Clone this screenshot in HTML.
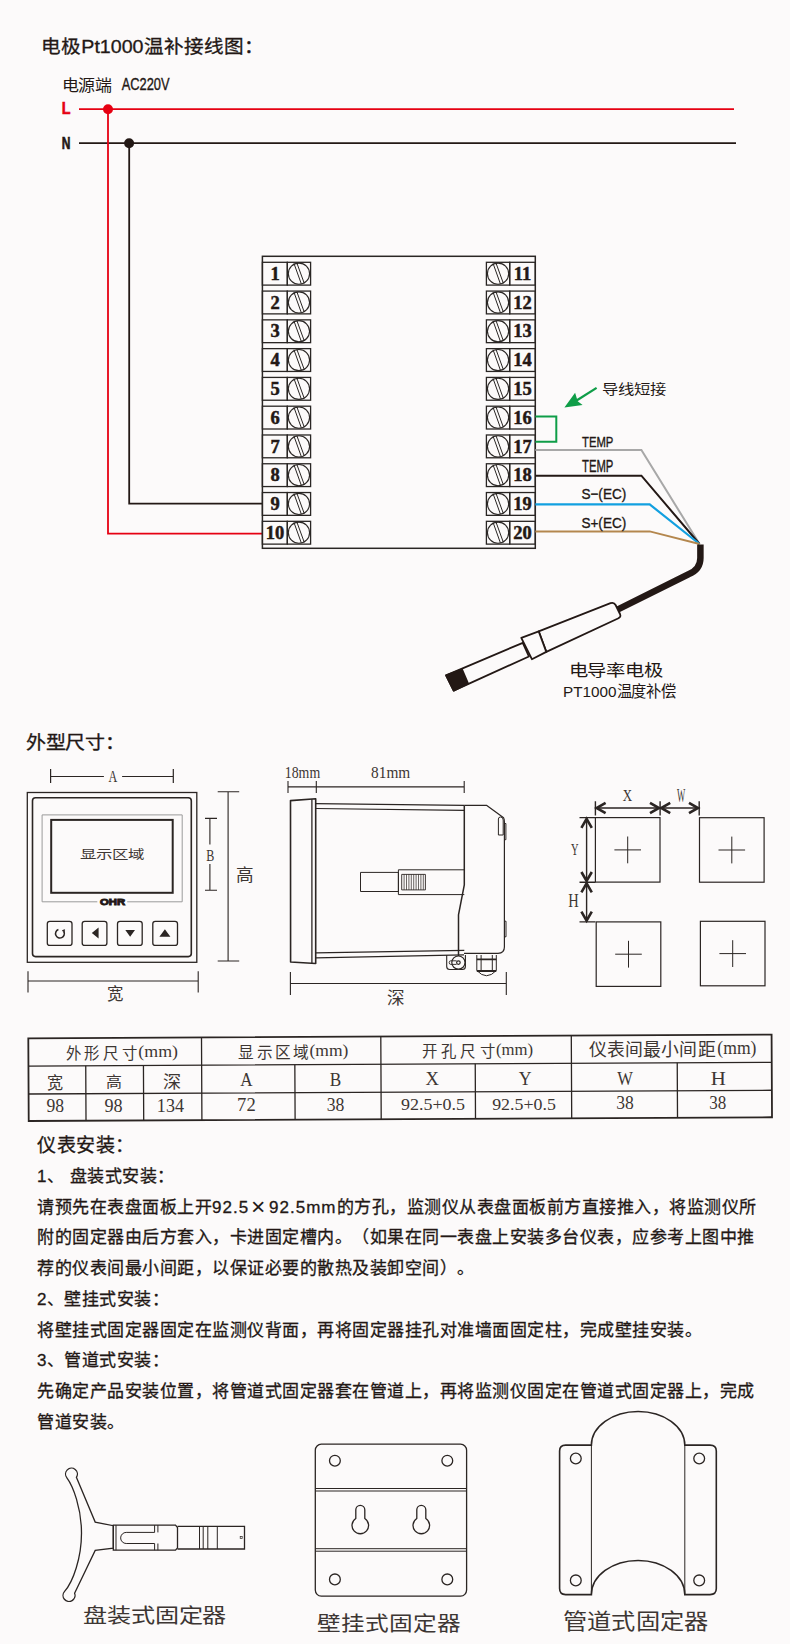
<!DOCTYPE html>
<html lang="zh-CN"><head><meta charset="utf-8">
<style>
html,body{margin:0;padding:0;background:#fcfafa;}
body{width:790px;height:1644px;position:relative;overflow:hidden;font-family:"Liberation Sans",sans-serif;color:#231815;}
svg{position:absolute;left:0;top:0;}
.p{position:absolute;left:37px;white-space:nowrap;line-height:30px;letter-spacing:0.5px;text-spacing-trim:space-all;-webkit-text-stroke:0.3px #231815;}
.l{letter-spacing:1px}
.x{display:inline-block;width:20px;text-align:center;transform:scale(1.45,1.45);-webkit-text-stroke:0}
</style></head><body>
<svg width="790" height="1644" viewBox="0 0 790 1644" font-family="Liberation Sans, sans-serif">
<path d="M79 109.2H734" stroke="#e60012" stroke-width="1.8" fill="none"/>
<path d="M79 143.2H736" stroke="#231815" stroke-width="1.8" fill="none"/>
<path d="M108 109.2V533.6H262.4" stroke="#e60012" stroke-width="1.8" fill="none"/>
<path d="M129.2 143.2V503.7H262.4" stroke="#231815" stroke-width="1.8" fill="none"/>
<circle cx="108" cy="109.2" r="5" fill="#e60012"/>
<circle cx="129.1" cy="143.2" r="5" fill="#231815"/>
<rect x="262.4" y="256.3" width="272.9" height="292" fill="none" stroke="#2a2624" stroke-width="1.5"/>
<rect x="262.4" y="262.30" width="24.9" height="22.8" fill="none" stroke="#2a2624" stroke-width="1.3"/>
<rect x="287.30" y="262.30" width="23.3" height="22.8" fill="none" stroke="#2a2624" stroke-width="1.3"/><circle cx="298.95" cy="273.70" r="10.6" fill="none" stroke="#2a2624" stroke-width="1.1"/><path d="M293.95 263.40L301.25 283.70M296.95 263.20L304.25 283.30" stroke="#2a2624" stroke-width="1" fill="none"/>
<rect x="486.40" y="262.30" width="23.3" height="22.8" fill="none" stroke="#2a2624" stroke-width="1.3"/><circle cx="498.05" cy="273.70" r="10.6" fill="none" stroke="#2a2624" stroke-width="1.1"/><path d="M493.05 263.40L500.35 283.70M496.05 263.20L503.35 283.30" stroke="#2a2624" stroke-width="1" fill="none"/>
<rect x="509.7" y="262.30" width="25.6" height="22.8" fill="none" stroke="#2a2624" stroke-width="1.3"/>
<rect x="262.4" y="291.08" width="24.9" height="22.8" fill="none" stroke="#2a2624" stroke-width="1.3"/>
<rect x="287.30" y="291.08" width="23.3" height="22.8" fill="none" stroke="#2a2624" stroke-width="1.3"/><circle cx="298.95" cy="302.48" r="10.6" fill="none" stroke="#2a2624" stroke-width="1.1"/><path d="M293.95 292.18L301.25 312.48M296.95 291.98L304.25 312.08" stroke="#2a2624" stroke-width="1" fill="none"/>
<rect x="486.40" y="291.08" width="23.3" height="22.8" fill="none" stroke="#2a2624" stroke-width="1.3"/><circle cx="498.05" cy="302.48" r="10.6" fill="none" stroke="#2a2624" stroke-width="1.1"/><path d="M493.05 292.18L500.35 312.48M496.05 291.98L503.35 312.08" stroke="#2a2624" stroke-width="1" fill="none"/>
<rect x="509.7" y="291.08" width="25.6" height="22.8" fill="none" stroke="#2a2624" stroke-width="1.3"/>
<rect x="262.4" y="319.86" width="24.9" height="22.8" fill="none" stroke="#2a2624" stroke-width="1.3"/>
<rect x="287.30" y="319.86" width="23.3" height="22.8" fill="none" stroke="#2a2624" stroke-width="1.3"/><circle cx="298.95" cy="331.26" r="10.6" fill="none" stroke="#2a2624" stroke-width="1.1"/><path d="M293.95 320.96L301.25 341.26M296.95 320.76L304.25 340.86" stroke="#2a2624" stroke-width="1" fill="none"/>
<rect x="486.40" y="319.86" width="23.3" height="22.8" fill="none" stroke="#2a2624" stroke-width="1.3"/><circle cx="498.05" cy="331.26" r="10.6" fill="none" stroke="#2a2624" stroke-width="1.1"/><path d="M493.05 320.96L500.35 341.26M496.05 320.76L503.35 340.86" stroke="#2a2624" stroke-width="1" fill="none"/>
<rect x="509.7" y="319.86" width="25.6" height="22.8" fill="none" stroke="#2a2624" stroke-width="1.3"/>
<rect x="262.4" y="348.64" width="24.9" height="22.8" fill="none" stroke="#2a2624" stroke-width="1.3"/>
<rect x="287.30" y="348.64" width="23.3" height="22.8" fill="none" stroke="#2a2624" stroke-width="1.3"/><circle cx="298.95" cy="360.04" r="10.6" fill="none" stroke="#2a2624" stroke-width="1.1"/><path d="M293.95 349.74L301.25 370.04M296.95 349.54L304.25 369.64" stroke="#2a2624" stroke-width="1" fill="none"/>
<rect x="486.40" y="348.64" width="23.3" height="22.8" fill="none" stroke="#2a2624" stroke-width="1.3"/><circle cx="498.05" cy="360.04" r="10.6" fill="none" stroke="#2a2624" stroke-width="1.1"/><path d="M493.05 349.74L500.35 370.04M496.05 349.54L503.35 369.64" stroke="#2a2624" stroke-width="1" fill="none"/>
<rect x="509.7" y="348.64" width="25.6" height="22.8" fill="none" stroke="#2a2624" stroke-width="1.3"/>
<rect x="262.4" y="377.42" width="24.9" height="22.8" fill="none" stroke="#2a2624" stroke-width="1.3"/>
<rect x="287.30" y="377.42" width="23.3" height="22.8" fill="none" stroke="#2a2624" stroke-width="1.3"/><circle cx="298.95" cy="388.82" r="10.6" fill="none" stroke="#2a2624" stroke-width="1.1"/><path d="M293.95 378.52L301.25 398.82M296.95 378.32L304.25 398.42" stroke="#2a2624" stroke-width="1" fill="none"/>
<rect x="486.40" y="377.42" width="23.3" height="22.8" fill="none" stroke="#2a2624" stroke-width="1.3"/><circle cx="498.05" cy="388.82" r="10.6" fill="none" stroke="#2a2624" stroke-width="1.1"/><path d="M493.05 378.52L500.35 398.82M496.05 378.32L503.35 398.42" stroke="#2a2624" stroke-width="1" fill="none"/>
<rect x="509.7" y="377.42" width="25.6" height="22.8" fill="none" stroke="#2a2624" stroke-width="1.3"/>
<rect x="262.4" y="406.20" width="24.9" height="22.8" fill="none" stroke="#2a2624" stroke-width="1.3"/>
<rect x="287.30" y="406.20" width="23.3" height="22.8" fill="none" stroke="#2a2624" stroke-width="1.3"/><circle cx="298.95" cy="417.60" r="10.6" fill="none" stroke="#2a2624" stroke-width="1.1"/><path d="M293.95 407.30L301.25 427.60M296.95 407.10L304.25 427.20" stroke="#2a2624" stroke-width="1" fill="none"/>
<rect x="486.40" y="406.20" width="23.3" height="22.8" fill="none" stroke="#2a2624" stroke-width="1.3"/><circle cx="498.05" cy="417.60" r="10.6" fill="none" stroke="#2a2624" stroke-width="1.1"/><path d="M493.05 407.30L500.35 427.60M496.05 407.10L503.35 427.20" stroke="#2a2624" stroke-width="1" fill="none"/>
<rect x="509.7" y="406.20" width="25.6" height="22.8" fill="none" stroke="#2a2624" stroke-width="1.3"/>
<rect x="262.4" y="434.98" width="24.9" height="22.8" fill="none" stroke="#2a2624" stroke-width="1.3"/>
<rect x="287.30" y="434.98" width="23.3" height="22.8" fill="none" stroke="#2a2624" stroke-width="1.3"/><circle cx="298.95" cy="446.38" r="10.6" fill="none" stroke="#2a2624" stroke-width="1.1"/><path d="M293.95 436.08L301.25 456.38M296.95 435.88L304.25 455.98" stroke="#2a2624" stroke-width="1" fill="none"/>
<rect x="486.40" y="434.98" width="23.3" height="22.8" fill="none" stroke="#2a2624" stroke-width="1.3"/><circle cx="498.05" cy="446.38" r="10.6" fill="none" stroke="#2a2624" stroke-width="1.1"/><path d="M493.05 436.08L500.35 456.38M496.05 435.88L503.35 455.98" stroke="#2a2624" stroke-width="1" fill="none"/>
<rect x="509.7" y="434.98" width="25.6" height="22.8" fill="none" stroke="#2a2624" stroke-width="1.3"/>
<rect x="262.4" y="463.76" width="24.9" height="22.8" fill="none" stroke="#2a2624" stroke-width="1.3"/>
<rect x="287.30" y="463.76" width="23.3" height="22.8" fill="none" stroke="#2a2624" stroke-width="1.3"/><circle cx="298.95" cy="475.16" r="10.6" fill="none" stroke="#2a2624" stroke-width="1.1"/><path d="M293.95 464.86L301.25 485.16M296.95 464.66L304.25 484.76" stroke="#2a2624" stroke-width="1" fill="none"/>
<rect x="486.40" y="463.76" width="23.3" height="22.8" fill="none" stroke="#2a2624" stroke-width="1.3"/><circle cx="498.05" cy="475.16" r="10.6" fill="none" stroke="#2a2624" stroke-width="1.1"/><path d="M493.05 464.86L500.35 485.16M496.05 464.66L503.35 484.76" stroke="#2a2624" stroke-width="1" fill="none"/>
<rect x="509.7" y="463.76" width="25.6" height="22.8" fill="none" stroke="#2a2624" stroke-width="1.3"/>
<rect x="262.4" y="492.54" width="24.9" height="22.8" fill="none" stroke="#2a2624" stroke-width="1.3"/>
<rect x="287.30" y="492.54" width="23.3" height="22.8" fill="none" stroke="#2a2624" stroke-width="1.3"/><circle cx="298.95" cy="503.94" r="10.6" fill="none" stroke="#2a2624" stroke-width="1.1"/><path d="M293.95 493.64L301.25 513.94M296.95 493.44L304.25 513.54" stroke="#2a2624" stroke-width="1" fill="none"/>
<rect x="486.40" y="492.54" width="23.3" height="22.8" fill="none" stroke="#2a2624" stroke-width="1.3"/><circle cx="498.05" cy="503.94" r="10.6" fill="none" stroke="#2a2624" stroke-width="1.1"/><path d="M493.05 493.64L500.35 513.94M496.05 493.44L503.35 513.54" stroke="#2a2624" stroke-width="1" fill="none"/>
<rect x="509.7" y="492.54" width="25.6" height="22.8" fill="none" stroke="#2a2624" stroke-width="1.3"/>
<rect x="262.4" y="521.32" width="24.9" height="22.8" fill="none" stroke="#2a2624" stroke-width="1.3"/>
<rect x="287.30" y="521.32" width="23.3" height="22.8" fill="none" stroke="#2a2624" stroke-width="1.3"/><circle cx="298.95" cy="532.72" r="10.6" fill="none" stroke="#2a2624" stroke-width="1.1"/><path d="M293.95 522.42L301.25 542.72M296.95 522.22L304.25 542.32" stroke="#2a2624" stroke-width="1" fill="none"/>
<rect x="486.40" y="521.32" width="23.3" height="22.8" fill="none" stroke="#2a2624" stroke-width="1.3"/><circle cx="498.05" cy="532.72" r="10.6" fill="none" stroke="#2a2624" stroke-width="1.1"/><path d="M493.05 522.42L500.35 542.72M496.05 522.22L503.35 542.32" stroke="#2a2624" stroke-width="1" fill="none"/>
<rect x="509.7" y="521.32" width="25.6" height="22.8" fill="none" stroke="#2a2624" stroke-width="1.3"/>
<path d="M535.3 416.5H556.3V441.8H535.3" stroke="#0f9d48" stroke-width="2" fill="none"/>
<path d="M535.3 450H641.4L699.5 544" stroke="#a8a8a8" stroke-width="2" fill="none"/>
<path d="M535.3 475.7H641.4L699.5 544" stroke="#231815" stroke-width="2" fill="none"/>
<path d="M535.3 504.4H649.7L699.5 544" stroke="#12a0e0" stroke-width="2.2" fill="none"/>
<path d="M535.3 531.4H649.7L699.5 544" stroke="#b4874e" stroke-width="2" fill="none"/>
<path d="M596.6 387.9L575 401.5" stroke="#0f9d48" stroke-width="2.3" fill="none"/>
<path d="M564.4 407.6L575.1 392.8L577.7 401.2L582.6 405Z" fill="#0f9d48"/>
<path d="M700.4 544.5V558Q700.4 569.5 688.5 574.3L617 609.8" stroke="#231815" stroke-width="6.5" fill="none"/>
<g stroke="#231815" stroke-width="1.8" fill="#fcfafa" stroke-linejoin="round">
<path d="M446.1 675.4L522.8 642.8L528.9 656.5L453.7 690.6Z"/>
<path d="M446.1 675.4L462 669.4L468.1 683.5L453.7 690.6Z" fill="#231815"/>
<path d="M538.7 631.4L610.5 603.2Q614 602 615.6 605L620 614Q621.3 617 618.5 618.2L546.3 651.9Z"/>
<path d="M521.3 637.9L538.7 631.4L546.3 651.9L531.9 659.2Z"/>
</g>
<g stroke="#2b2523" fill="none">
<path d="M50.6 769V783M173.3 769V783M50.6 776.5H103.9M122.1 776.5H173.3" stroke-width="1.2"/>
<rect x="27.3" y="792.5" width="169.5" height="169.8" stroke-width="1.3"/>
<rect x="32.5" y="797.8" width="158.8" height="158.8" rx="3" stroke-width="1.6"/>
<path d="M97.3 901.8H42.1V814.9H182.2V901.8H127.2" stroke="#9a9a9a" stroke-width="1"/>
<rect x="51.2" y="819.9" width="121.5" height="72.9" stroke-width="2"/>
<rect x="47.3" y="921.3" width="24.7" height="24.1" rx="2.5" stroke-width="1.3"/>
<rect x="82.2" y="921.3" width="24.7" height="24.1" rx="2.5" stroke-width="1.3"/>
<rect x="117.5" y="921.3" width="24.7" height="24.1" rx="2.5" stroke-width="1.3"/>
<rect x="152.8" y="921.3" width="24.7" height="24.1" rx="2.5" stroke-width="1.3"/>
<path d="M205 818.4H217M205 890.2H217M209.9 818.4V844.6M209.9 864.1V890.2" stroke-width="1.1"/>
<path d="M217.7 791.8H239.2M217.7 961H239.2M228.1 791.8V961" stroke-width="1.1"/>
<path d="M28 971.2V992.4M198.2 971.2V992.4M28 981H198.2" stroke-width="1.1"/>
<path d="M58.4 929.5A4.4 4.4 0 1 0 63.9 931.7" stroke-width="1.5"/><path d="M62.2 930.6L64.6 929.6L64.4 932.6Z" fill="#2b2523" stroke-width="0.6"/>
</g>
<path d="M91.8 933L98.6 927.6V938.4Z M125.3 930H135L130.15 936.8Z M159.4 936.8H170.4L164.9 929.2Z" fill="#2b2523"/>
<g stroke="#2b2523" fill="none" stroke-linejoin="round">
<path d="M288 780.9V793M316.3 780.9V793M464.2 780.9V793M288 786.9H464.2" stroke-width="1.1"/>
<path d="M290.5 800.6L315.7 798.7V963.5L290.6 962Z" stroke-width="1.6"/>
<path d="M311.9 799V963.3" stroke-width="1.3"/>
<path d="M315.7 803.7L464.3 805.4M315.7 808.5L464.3 810.3M315.7 952.8L464.3 950.3M315.7 957.8L464 954.8" stroke-width="1.2"/>
<path d="M464.3 805.4H486.8L503.6 817.7Q504.4 819 504.4 822V947Q504.4 953.3 498 953.3H464" stroke-width="1.2"/>
<path d="M464.3 805.4V884.8L458.5 914.9V956" stroke-width="1.5"/>
<path d="M360.5 872.4H398.4V891.5H360.5Z M398.4 869.8H464.3M398.4 894.6H464.3M398.4 869.8V894.6" stroke-width="1"/>
<rect x="401.7" y="874.4" width="23.7" height="15.5" stroke-width="0.9"/>
<path d="M404.1 874.4V889.9M406.5 874.4V889.9M408.9 874.4V889.9M411.3 874.4V889.9M413.7 874.4V889.9M416.1 874.4V889.9M418.5 874.4V889.9M420.9 874.4V889.9M423.3 874.4V889.9" stroke-width="0.7"/>
<path d="M498.4 835V819Q498.4 817 500.5 817Q503.2 817 503.2 820V835Z" stroke-width="1"/>
<path d="M504.4 823.5H505.9V839.7H504.4M504.4 921.2H506V936.8H504.4" stroke-width="1"/>
<path d="M446.7 955V966.5Q446.7 969.5 449.7 969.5H462.4Q465.4 969.5 465.4 966.5V955" stroke-width="1.1"/>
<circle cx="458.4" cy="962.6" r="6.6" stroke-width="1.2" fill="#fcfafa"/>
<circle cx="458.4" cy="962.6" r="1.8" stroke-width="1.2"/>
<path d="M456.5 960.8H450.8Q449.2 960.8 449.2 962.6Q449.2 964.4 450.8 964.4H456.5" stroke-width="0.9"/>
<path d="M476.8 955V970.5Q486.5 981 496.3 970.5V955M481.1 955V971M492.3 955V971" stroke-width="1"/>
<path d="M476.8 959.4H496.3M476.8 971H496.3" stroke-width="1.8"/>
<path d="M290.4 972V995M506.3 972V995M290.4 983.5H506.3" stroke-width="1.1"/>
</g>
<g stroke="#2b2523" fill="none" stroke-width="1.2">
<rect x="595.4" y="817.6" width="64.6" height="64.5"/>
<path d="M614.4 849.9H641.0M627.7 836.5V863.3" stroke-width="1"/>
<rect x="699.5" y="817.7" width="64.6" height="64.5"/>
<path d="M718.5 850.0H745.1M731.8 836.6V863.4" stroke-width="1"/>
<rect x="596.2" y="921.9" width="64.6" height="64.5"/>
<path d="M615.2 954.2H641.8M628.5 940.8V967.6" stroke-width="1"/>
<rect x="700.4" y="921.3" width="64.6" height="64.5"/>
<path d="M719.4 953.6H746.0M732.7 940.2V967.0" stroke-width="1"/>
<path d="M595.4 801.3V815.6M660.1 801.3V815.6M699.2 801.3V815.6M595.6 808H699.2" stroke-width="1.4"/>
<path d="M579.5 817.6H595.4M579.5 882.2H595.4M579.5 921.9H595.4M586.6 817.6V921.9" stroke-width="1.4"/>
<path d="M605.6 802.8L596.6 808.0L605.6 813.2M650.0 802.8L659.0 808.0L650.0 813.2M670.2 802.8L661.2 808.0L670.2 813.2M689.0 802.8L698.0 808.0L689.0 813.2M581.4 827.8L586.6 818.8L591.8 827.8M581.4 872.0L586.6 881.0L591.8 872.0M581.4 892.4L586.6 883.4L591.8 892.4M581.4 911.7L586.6 920.7L591.8 911.7" stroke-width="2.6"/>
</g>
<g transform="rotate(-0.29 28.3 1038.3)">
<g stroke="#2b2523" fill="none" stroke-width="1.3">
<rect x="28.3" y="1038.3" width="743.3" height="82.7" stroke-width="1.8"/>
<path d="M28.3 1066.1H771.6M28.3 1094H771.6"/>
<path d="M201.5 1038.3V1121M380.8 1038.3V1121M571.3 1038.3V1121M85.6 1066.1V1121M143.3 1066.1V1121M294.7 1066.1V1121M475.1 1066.1V1121M677.1 1066.1V1121"/>
</g>
</g>
<g stroke="#2b2523" fill="none" stroke-width="1.3">
<path d="M76.4 1477.3A5.9 5.9 0 1 0 66.9 1477.8C73 1486 81.5 1508 81.5 1533C81.5 1558 73 1582 64.6 1591.4A6 6 0 1 0 74.6 1593.2L95.2 1550.4L113.3 1548.1V1525.7L95.2 1522.1Z" stroke-width="1.3"/>
<path d="M113.3 1525.1H175.5L177.5 1527.5V1548L175.5 1550.2H113.3Z" stroke-width="1.3"/>
<path d="M177.5 1526.4H244.5V1549H177.5" stroke-width="1.3"/>
<path d="M154.6 1532.4H126.2A5.55 5.55 0 0 0 126.2 1543.5H154.6M154.6 1525.1V1532.4M154.6 1543.5V1550.2M157.9 1525.1V1532.4M157.9 1543.5V1550.2M116 1525.1V1550.2M199.5 1526.4V1549M203.2 1526.4V1549M207.8 1526.4V1549M217.3 1526.4V1549" stroke-width="1"/>
<rect x="240.2" y="1536.4" width="2" height="2" stroke-width="0.7"/>
<rect x="315.3" y="1444.2" width="151.3" height="151.9" rx="6"/>
<path d="M315.3 1488.5H466.6M315.3 1491H466.6M315.3 1548.7H466.6M315.3 1551.2H466.6" stroke-width="1"/>
<circle cx="334.9" cy="1460.7" r="5.4"/>
<circle cx="447.3" cy="1460.7" r="5.4"/>
<circle cx="334.9" cy="1579.4" r="5.4"/>
<circle cx="447.3" cy="1579.4" r="5.4"/>
<path d="M355.8 1518.5V1509.8A4.5 4.5 0 0 1 364.8 1509.8V1518.5A8.3 8.3 0 1 1 355.8 1518.5Z"/>
<path d="M416.8 1518.5V1509.8A4.5 4.5 0 0 1 425.8 1509.8V1518.5A8.3 8.3 0 1 1 416.8 1518.5Z"/>
<path d="M591.4 1445.1A46.7 33.7 0 0 1 684.8 1445.1H710Q716.3 1445.1 716.3 1451V1588.6Q716.3 1594.6 710 1594.6H684.8A46.7 34.2 0 0 0 591.4 1594.6H565.6Q559.6 1594.6 559.6 1588.6V1451Q559.6 1445.1 565.6 1445.1Z" stroke-width="1.6"/>
<path d="M591.4 1445.1V1594.6M684.8 1445.1V1594.6" stroke-width="1"/>
<circle cx="575.8" cy="1458.5" r="5.4"/>
<circle cx="699.2" cy="1458.5" r="5.4"/>
<circle cx="575.8" cy="1580.4" r="5.4"/>
<circle cx="699.2" cy="1580.4" r="5.4"/>
</g>
<text id="t_title" x="41.00" y="52.98" font-size="18.55" fill="#231815" font-family="Liberation Sans, sans-serif" stroke="#231815" stroke-width="0.3" textLength="223.37" lengthAdjust="spacingAndGlyphs">电极Pt1000温补接线图：</text>
<text id="t_src" x="61.59" y="90.92" font-size="15.36" fill="#231815" font-family="Liberation Sans, sans-serif" textLength="49.74" lengthAdjust="spacingAndGlyphs">电源端</text>
<text id="t_ac" x="121.71" y="90.27" font-size="16.49" fill="#231815" font-family="Liberation Sans, sans-serif" stroke="#231815" stroke-width="0.35" textLength="47.88" lengthAdjust="spacingAndGlyphs">AC220V</text>
<text id="t_L" x="61.68" y="114.00" font-size="16.50" fill="#e60012" font-family="Liberation Sans, sans-serif" font-weight="bold" stroke="#e60012" stroke-width="0.6" textLength="8.74" lengthAdjust="spacingAndGlyphs">L</text>
<text id="t_N" x="61.71" y="148.99" font-size="15.98" fill="#231815" font-family="Liberation Sans, sans-serif" font-weight="bold" stroke="#231815" stroke-width="0.6" textLength="8.71" lengthAdjust="spacingAndGlyphs">N</text>
<text id="t_temp1" x="582.00" y="447.04" font-size="15.23" fill="#231815" font-family="Liberation Sans, sans-serif" stroke="#231815" stroke-width="0.35" textLength="31.41" lengthAdjust="spacingAndGlyphs">TEMP</text>
<text id="t_temp2" x="582.00" y="472.09" font-size="17.01" fill="#231815" font-family="Liberation Sans, sans-serif" stroke="#231815" stroke-width="0.35" textLength="31.41" lengthAdjust="spacingAndGlyphs">TEMP</text>
<text id="t_sm" x="581.41" y="499.22" font-size="15.01" fill="#231815" font-family="Liberation Sans, sans-serif" stroke="#231815" stroke-width="0.35" textLength="44.84" lengthAdjust="spacingAndGlyphs">S−(EC)</text>
<text id="t_sp" x="581.41" y="528.05" font-size="15.01" fill="#231815" font-family="Liberation Sans, sans-serif" stroke="#231815" stroke-width="0.35" textLength="44.84" lengthAdjust="spacingAndGlyphs">S+(EC)</text>
<text id="t_short" x="601.56" y="393.73" font-size="13.09" fill="#231815" font-family="Liberation Sans, sans-serif" textLength="65.09" lengthAdjust="spacingAndGlyphs">导线短接</text>
<text id="t_probe1" x="568.62" y="676.22" font-size="16.48" fill="#231815" font-family="Liberation Sans, sans-serif" textLength="93.97" lengthAdjust="spacingAndGlyphs">电导率电极</text>
<text id="t_probe2" x="563.06" y="697.08" font-size="15.42" fill="#231815" font-family="Liberation Sans, sans-serif" textLength="113.00" lengthAdjust="spacingAndGlyphs">PT1000温度补偿</text>
<text id="t_dim" x="26.02" y="749.14" font-size="18.25" fill="#231815" font-family="Liberation Sans, sans-serif" stroke="#231815" stroke-width="0.3" textLength="98.60" lengthAdjust="spacingAndGlyphs">外型尺寸：</text>
<text id="t_A" x="108.41" y="782.33" font-size="16.27" fill="#3d3633" font-family="Liberation Serif, serif" textLength="8.75" lengthAdjust="spacingAndGlyphs">A</text>
<text id="t_B" x="206.34" y="861.21" font-size="17.65" fill="#3d3633" font-family="Liberation Serif, serif" textLength="8.08" lengthAdjust="spacingAndGlyphs">B</text>
<text id="t_disp" x="80.14" y="858.61" font-size="12.42" fill="#3d3633" font-family="Liberation Sans, sans-serif" textLength="63.77" lengthAdjust="spacingAndGlyphs">显示区域</text>
<text id="t_ohr" x="100.07" y="905.06" font-size="8.95" fill="#231815" font-family="Liberation Sans, sans-serif" font-weight="bold" stroke="#231815" stroke-width="0.9" textLength="25.15" lengthAdjust="spacingAndGlyphs">OHR</text>
<text id="t_gao" x="236.24" y="880.58" font-size="16.53" fill="#3d3633" font-family="Liberation Sans, sans-serif" textLength="18.12" lengthAdjust="spacingAndGlyphs">高</text>
<text id="t_kuan" x="106.51" y="999.70" font-size="17.02" fill="#3d3633" font-family="Liberation Sans, sans-serif" textLength="16.38" lengthAdjust="spacingAndGlyphs">宽</text>
<text id="t_18" x="284.76" y="778.36" font-size="15.77" fill="#3d3633" font-family="Liberation Serif, serif" textLength="35.42" lengthAdjust="spacingAndGlyphs">18mm</text>
<text id="t_81" x="371.12" y="778.36" font-size="15.77" fill="#3d3633" font-family="Liberation Serif, serif" textLength="39.19" lengthAdjust="spacingAndGlyphs">81mm</text>
<text id="t_shen" x="386.77" y="1004.30" font-size="16.62" fill="#3d3633" font-family="Liberation Sans, sans-serif" textLength="18.02" lengthAdjust="spacingAndGlyphs">深</text>
<text id="t_X" x="622.84" y="801.32" font-size="17.70" fill="#3d3633" font-family="Liberation Serif, serif" textLength="9.32" lengthAdjust="spacingAndGlyphs">X</text>
<text id="t_W" x="677.00" y="802.37" font-size="19.04" fill="#3d3633" font-family="Liberation Serif, serif" textLength="8.25" lengthAdjust="spacingAndGlyphs">W</text>
<text id="t_Y" x="571.00" y="854.74" font-size="16.98" fill="#3d3633" font-family="Liberation Serif, serif" textLength="7.57" lengthAdjust="spacingAndGlyphs">Y</text>
<text id="t_H" x="568.24" y="907.23" font-size="18.20" fill="#3d3633" font-family="Liberation Serif, serif" textLength="10.48" lengthAdjust="spacingAndGlyphs">H</text>
<text id="h1c" x="65.65" y="1059.18" font-size="15.40" fill="#3d3633" font-family="Liberation Serif, serif" textLength="71.10" lengthAdjust="spacing">外形尺寸</text>
<text id="h1m" x="138.35" y="1057.29" font-size="16.78" fill="#3d3633" font-family="Liberation Serif, serif" textLength="39.67" lengthAdjust="spacingAndGlyphs">(mm)</text>
<text id="h2c" x="238.27" y="1058.05" font-size="15.63" fill="#3d3633" font-family="Liberation Serif, serif" textLength="70.72" lengthAdjust="spacing">显示区域</text>
<text id="h2m" x="309.48" y="1055.99" font-size="17.08" fill="#3d3633" font-family="Liberation Serif, serif" textLength="38.83" lengthAdjust="spacingAndGlyphs">(mm)</text>
<text id="h3c" x="422.10" y="1057.26" font-size="15.40" fill="#3d3633" font-family="Liberation Serif, serif" textLength="72.54" lengthAdjust="spacing">开孔尺寸</text>
<text id="h3m" x="496.00" y="1055.39" font-size="16.78" fill="#3d3633" font-family="Liberation Serif, serif" textLength="37.18" lengthAdjust="spacingAndGlyphs">(mm)</text>
<text id="h4c" x="589.09" y="1056.18" font-size="17.83" fill="#3d3633" font-family="Liberation Serif, serif" textLength="126.49" lengthAdjust="spacing">仪表间最小间距</text>
<text id="h4m" x="717.35" y="1053.89" font-size="19.31" fill="#3d3633" font-family="Liberation Serif, serif" textLength="39.08" lengthAdjust="spacingAndGlyphs">(mm)</text>
<text id="r2a" x="46.85" y="1088.73" font-size="17.52" fill="#3d3633" font-family="Liberation Serif, serif" textLength="16.56" lengthAdjust="spacingAndGlyphs">宽</text>
<text id="r2b" x="105.85" y="1086.82" font-size="15.03" fill="#3d3633" font-family="Liberation Serif, serif" textLength="15.92" lengthAdjust="spacingAndGlyphs">高</text>
<text id="r2c" x="162.74" y="1088.00" font-size="17.00" fill="#3d3633" font-family="Liberation Serif, serif" textLength="18.18" lengthAdjust="spacingAndGlyphs">深</text>
<text id="r2d" x="240.16" y="1085.60" font-size="17.79" fill="#3d3633" font-family="Liberation Serif, serif" textLength="12.34" lengthAdjust="spacingAndGlyphs">A</text>
<text id="r2e" x="329.71" y="1085.60" font-size="17.79" fill="#3d3633" font-family="Liberation Serif, serif" textLength="11.51" lengthAdjust="spacingAndGlyphs">B</text>
<text id="r2f" x="425.54" y="1085.23" font-size="17.89" fill="#3d3633" font-family="Liberation Serif, serif" textLength="13.44" lengthAdjust="spacingAndGlyphs">X</text>
<text id="r2g" x="518.75" y="1085.23" font-size="17.89" fill="#3d3633" font-family="Liberation Serif, serif" textLength="12.85" lengthAdjust="spacingAndGlyphs">Y</text>
<text id="r2h" x="617.16" y="1085.03" font-size="18.81" fill="#3d3633" font-family="Liberation Serif, serif" textLength="15.61" lengthAdjust="spacingAndGlyphs">W</text>
<text id="r2i" x="710.86" y="1085.03" font-size="18.81" fill="#3d3633" font-family="Liberation Serif, serif" textLength="15.10" lengthAdjust="spacingAndGlyphs">H</text>
<text id="r3a" x="46.55" y="1112.47" font-size="19.52" fill="#3d3633" font-family="Liberation Serif, serif" textLength="17.61" lengthAdjust="spacingAndGlyphs">98</text>
<text id="r3b" x="104.54" y="1112.47" font-size="19.52" fill="#3d3633" font-family="Liberation Serif, serif" textLength="18.14" lengthAdjust="spacingAndGlyphs">98</text>
<text id="r3c" x="156.87" y="1112.47" font-size="19.52" fill="#3d3633" font-family="Liberation Serif, serif" textLength="27.16" lengthAdjust="spacingAndGlyphs">134</text>
<text id="r3d" x="237.09" y="1111.00" font-size="18.10" fill="#3d3633" font-family="Liberation Serif, serif" textLength="18.65" lengthAdjust="spacingAndGlyphs">72</text>
<text id="r3e" x="326.70" y="1111.00" font-size="18.10" fill="#3d3633" font-family="Liberation Serif, serif" textLength="17.69" lengthAdjust="spacingAndGlyphs">38</text>
<text id="r3f" x="400.95" y="1110.03" font-size="17.28" fill="#3d3633" font-family="Liberation Serif, serif" textLength="64.18" lengthAdjust="spacingAndGlyphs">92.5+0.5</text>
<text id="r3g" x="492.15" y="1110.03" font-size="17.28" fill="#3d3633" font-family="Liberation Serif, serif" textLength="63.69" lengthAdjust="spacingAndGlyphs">92.5+0.5</text>
<text id="r3h" x="616.15" y="1109.23" font-size="17.89" fill="#3d3633" font-family="Liberation Serif, serif" textLength="17.57" lengthAdjust="spacingAndGlyphs">38</text>
<text id="r3i" x="709.18" y="1109.23" font-size="17.89" fill="#3d3633" font-family="Liberation Serif, serif" textLength="17.06" lengthAdjust="spacingAndGlyphs">38</text>
<text id="t_f1" x="82.84" y="1623.47" font-size="20.17" fill="#3d3633" font-family="Liberation Sans, sans-serif" textLength="143.60" lengthAdjust="spacingAndGlyphs">盘装式固定器</text>
<text id="t_f2" x="317.31" y="1630.52" font-size="20.75" fill="#3d3633" font-family="Liberation Sans, sans-serif" textLength="143.62" lengthAdjust="spacingAndGlyphs">壁挂式固定器</text>
<text id="t_f3" x="563.32" y="1628.92" font-size="21.15" fill="#3d3633" font-family="Liberation Sans, sans-serif" textLength="144.42" lengthAdjust="spacingAndGlyphs">管道式固定器</text>
<text id="n1" transform="translate(275.00 279.90) scale(1.000 1)" x="0" y="0" font-size="18.50" font-weight="bold" font-family="Liberation Serif, serif" text-anchor="middle" fill="#231815" stroke="#231815" stroke-width="0.5">1</text>
<text id="n11" transform="translate(522.60 279.90) scale(1.000 1)" x="0" y="0" font-size="18.50" font-weight="bold" font-family="Liberation Serif, serif" text-anchor="middle" fill="#231815" stroke="#231815" stroke-width="0.5">11</text>
<text id="n2" transform="translate(275.00 308.68) scale(1.000 1)" x="0" y="0" font-size="18.50" font-weight="bold" font-family="Liberation Serif, serif" text-anchor="middle" fill="#231815" stroke="#231815" stroke-width="0.5">2</text>
<text id="n12" transform="translate(522.60 308.68) scale(1.000 1)" x="0" y="0" font-size="18.50" font-weight="bold" font-family="Liberation Serif, serif" text-anchor="middle" fill="#231815" stroke="#231815" stroke-width="0.5">12</text>
<text id="n3" transform="translate(275.00 337.46) scale(1.000 1)" x="0" y="0" font-size="18.50" font-weight="bold" font-family="Liberation Serif, serif" text-anchor="middle" fill="#231815" stroke="#231815" stroke-width="0.5">3</text>
<text id="n13" transform="translate(522.60 337.46) scale(1.000 1)" x="0" y="0" font-size="18.50" font-weight="bold" font-family="Liberation Serif, serif" text-anchor="middle" fill="#231815" stroke="#231815" stroke-width="0.5">13</text>
<text id="n4" transform="translate(275.00 366.24) scale(1.000 1)" x="0" y="0" font-size="18.50" font-weight="bold" font-family="Liberation Serif, serif" text-anchor="middle" fill="#231815" stroke="#231815" stroke-width="0.5">4</text>
<text id="n14" transform="translate(522.60 366.24) scale(1.000 1)" x="0" y="0" font-size="18.50" font-weight="bold" font-family="Liberation Serif, serif" text-anchor="middle" fill="#231815" stroke="#231815" stroke-width="0.5">14</text>
<text id="n5" transform="translate(275.00 395.02) scale(1.000 1)" x="0" y="0" font-size="18.50" font-weight="bold" font-family="Liberation Serif, serif" text-anchor="middle" fill="#231815" stroke="#231815" stroke-width="0.5">5</text>
<text id="n15" transform="translate(522.60 395.02) scale(1.000 1)" x="0" y="0" font-size="18.50" font-weight="bold" font-family="Liberation Serif, serif" text-anchor="middle" fill="#231815" stroke="#231815" stroke-width="0.5">15</text>
<text id="n6" transform="translate(275.00 423.80) scale(1.000 1)" x="0" y="0" font-size="18.50" font-weight="bold" font-family="Liberation Serif, serif" text-anchor="middle" fill="#231815" stroke="#231815" stroke-width="0.5">6</text>
<text id="n16" transform="translate(522.60 423.80) scale(1.000 1)" x="0" y="0" font-size="18.50" font-weight="bold" font-family="Liberation Serif, serif" text-anchor="middle" fill="#231815" stroke="#231815" stroke-width="0.5">16</text>
<text id="n7" transform="translate(275.00 452.58) scale(1.000 1)" x="0" y="0" font-size="18.50" font-weight="bold" font-family="Liberation Serif, serif" text-anchor="middle" fill="#231815" stroke="#231815" stroke-width="0.5">7</text>
<text id="n17" transform="translate(522.60 452.58) scale(1.000 1)" x="0" y="0" font-size="18.50" font-weight="bold" font-family="Liberation Serif, serif" text-anchor="middle" fill="#231815" stroke="#231815" stroke-width="0.5">17</text>
<text id="n8" transform="translate(275.00 481.36) scale(1.000 1)" x="0" y="0" font-size="18.50" font-weight="bold" font-family="Liberation Serif, serif" text-anchor="middle" fill="#231815" stroke="#231815" stroke-width="0.5">8</text>
<text id="n18" transform="translate(522.60 481.36) scale(1.000 1)" x="0" y="0" font-size="18.50" font-weight="bold" font-family="Liberation Serif, serif" text-anchor="middle" fill="#231815" stroke="#231815" stroke-width="0.5">18</text>
<text id="n9" transform="translate(275.00 510.14) scale(1.000 1)" x="0" y="0" font-size="18.50" font-weight="bold" font-family="Liberation Serif, serif" text-anchor="middle" fill="#231815" stroke="#231815" stroke-width="0.5">9</text>
<text id="n19" transform="translate(522.60 510.14) scale(1.000 1)" x="0" y="0" font-size="18.50" font-weight="bold" font-family="Liberation Serif, serif" text-anchor="middle" fill="#231815" stroke="#231815" stroke-width="0.5">19</text>
<text id="n10" transform="translate(275.00 538.92) scale(1.000 1)" x="0" y="0" font-size="18.50" font-weight="bold" font-family="Liberation Serif, serif" text-anchor="middle" fill="#231815" stroke="#231815" stroke-width="0.5">10</text>
<text id="n20" transform="translate(522.60 538.92) scale(1.000 1)" x="0" y="0" font-size="18.50" font-weight="bold" font-family="Liberation Serif, serif" text-anchor="middle" fill="#231815" stroke="#231815" stroke-width="0.5">20</text>
</svg>
<div class="p" style="top:1130.7px;font-size:19px;letter-spacing:0.5px">仪表安装：</div><div class="p" style="top:1162.0px;font-size:17px">1、 盘装式安装：</div><div class="p" style="top:1192.7px;font-size:17px">请预先在表盘面板上开<span class='l'>92.5<span class='x'>×</span>92.5mm</span>的方孔，监测仪从表盘面板前方直接推入，将监测仪所</div><div class="p" style="top:1223.4px;font-size:17px">附的固定器由后方套入，卡进固定槽内。（如果在同一表盘上安装多台仪表，应参考上图中推</div><div class="p" style="top:1254.1px;font-size:17px">荐的仪表间最小间距，以保证必要的散热及装卸空间）。</div><div class="p" style="top:1284.8px;font-size:17px">2、壁挂式安装：</div><div class="p" style="top:1315.5px;font-size:17px">将壁挂式固定器固定在监测仪背面，再将固定器挂孔对准墙面固定柱，完成壁挂安装。</div><div class="p" style="top:1346.2px;font-size:17px">3、管道式安装：</div><div class="p" style="top:1376.9px;font-size:17px">先确定产品安装位置，将管道式固定器套在管道上，再将监测仪固定在管道式固定器上，完成</div><div class="p" style="top:1407.6px;font-size:17px">管道安装。</div>
</body></html>
